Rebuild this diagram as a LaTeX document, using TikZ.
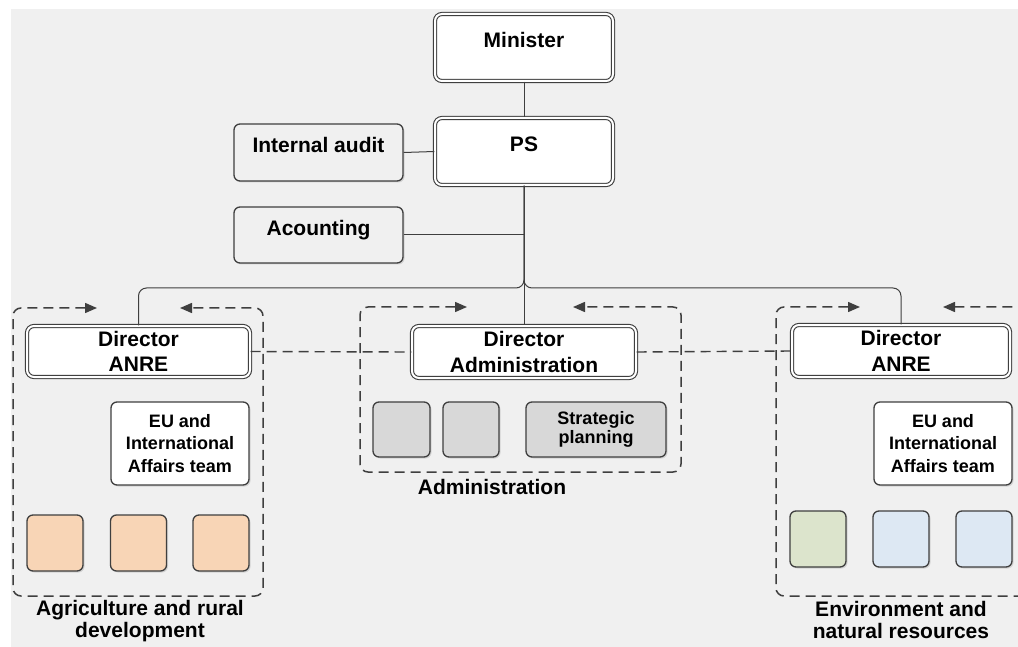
\documentclass[tikz,border=0pt]{standalone}
\usepackage{fontspec}
\setmainfont{Liberation Sans}
\usetikzlibrary{arrows.meta,shadows,calc}

\definecolor{bg}{HTML}{F0F0F0}
\definecolor{edge}{HTML}{3F3F3F}
\definecolor{peach}{HTML}{F8D5B6}
\definecolor{sage}{HTML}{DCE4CC}
\definecolor{sky}{HTML}{DDE8F3}
\definecolor{unitgray}{HTML}{D8D8D8}

\begin{document}
\begin{tikzpicture}[x=1pt,y=-1pt,
  softshadow/.style={drop shadow={shadow xshift=1.5pt,shadow yshift=-1.5pt,fill=black,opacity=0.12}},
  conn/.style={draw=edge,line width=1pt},
  dashconn/.style={draw=edge,line width=1.4pt,dash pattern=on 10pt off 6pt},
  headbox/.style={draw=edge,line width=1.1pt,double=white,double distance=2pt,
    fill=white,rounded corners=7pt,inner sep=0pt,align=center,
    font=\fontsize{21}{25.5}\selectfont\bfseries,softshadow},
  raised/.style={text height=15pt,text depth=14pt},
  unitbox/.style={draw=edge,line width=1.3pt,rounded corners=6pt,inner sep=0pt,
    align=center,softshadow},
  bigtext/.style={font=\fontsize{21}{25.5}\selectfont\bfseries},
  smalltext/.style={font=\fontsize{18}{22.5}\selectfont\bfseries},
  tile/.style={unitbox,minimum width=56pt,minimum height=56pt},
  grp/.style={draw=edge,line width=1.5pt,dash pattern=on 10pt off 6pt,rounded corners=8pt},
  grptips/.style={{Triangle[length=12pt,width=10pt]}-{Triangle[length=12pt,width=10pt]}},
  grouplabel/.style={align=center,inner sep=0pt,font=\fontsize{21}{21.5}\selectfont\bfseries},
]
\useasboundingbox (0,0) rectangle (1018,647);
\fill[white] (0,0) rectangle (1018,647);
\fill[bg] (11,9) rectangle (1018,647);
\clip (0,0) rectangle (1018,647);

% --- top of the hierarchy
\node[headbox,raised,minimum width=178pt,minimum height=67pt] (min) at (524,47.5) {Minister};
\node[headbox,raised,minimum width=178pt,minimum height=67pt] (ps) at (524,151.5) {PS};
\node[unitbox,bigtext,raised,fill=bg,minimum width=169pt,minimum height=57pt] (audit) at (318.5,152.5) {Internal audit};
\node[unitbox,bigtext,raised,fill=bg,minimum width=169pt,minimum height=56pt] (acc) at (318.5,235) {Acounting};

% --- directors
\node[headbox,minimum width=223pt,minimum height=51pt] (dirL) at (138.5,351.5) {Director\\ANRE};
\node[headbox,minimum width=224pt,minimum height=52pt] (dirA) at (524,352) {Director\\Administration};
\node[headbox,minimum width=218pt,minimum height=52pt] (dirR) at (901,351) {Director\\ANRE};

% --- teams and units
\node[unitbox,smalltext,fill=white,minimum width=138pt,minimum height=83pt] (euL) at (180,443.5) {EU and\\International\\Affairs team};
\node[unitbox,smalltext,fill=white,minimum width=138pt,minimum height=83pt] (euR) at (943,443.5) {EU and\\International\\Affairs team};

\node[unitbox,fill=unitgray,minimum width=57pt,minimum height=55pt] (adm1) at (401.5,429.5) {};
\node[unitbox,fill=unitgray,minimum width=56pt,minimum height=55pt] (adm2) at (471,429.5) {};
\node[unitbox,fill=unitgray,minimum width=140pt,minimum height=55pt,
  font=\fontsize{18}{18.5}\selectfont\bfseries] (strat) at (596,429.5) {Strategic\\planning};

\node[tile,fill=peach] (agr1) at (55,543) {};
\node[tile,fill=peach] (agr2) at (138.5,543) {};
\node[tile,fill=peach] (agr3) at (221,543) {};

\node[tile,fill=sage] (env1) at (818,539) {};
\node[tile,fill=sky] (env2) at (901,539) {};
\node[tile,fill=sky] (env3) at (984,539) {};

% --- reporting lines
\coordinate (bus) at (524,288);
\draw[conn] (min.south) -- (ps.north);
\draw[conn] (audit.east) -- (ps.west);
\draw[conn] (acc.east) -- (acc.east -| ps.south);
\draw[conn] (ps.south) -- (dirA.north);
\draw[conn,rounded corners=8pt] (ps.south) -- (bus) -| (dirL.north);
\draw[conn,rounded corners=8pt] (ps.south) -- (bus) -| (dirR.north);

% --- coordination between directors
\draw[dashconn] (dirL.east) -- (dirA.west);
\draw[dashconn] (dirA.east) -- (dirR.west);

% --- dashed department frames
\draw[grp,grptips] (97,308) -- (13,308) -- (13,596) -- (263,596) -- (263,308) -- (180,308);
\draw[grp,grptips] (467,307) -- (360,307) -- (360,472) -- (681,472) -- (681,307) -- (573,307);
\draw[grp,grptips] (860,307) -- (776,307) -- (776,596) -- (1032,596) -- (1032,307) -- (943,307);

% --- department names
\node[grouplabel] (lblAdm) at (492,487) {Administration};
\node[grouplabel] (lblAgr) at (140,621) {Agriculture and rural\\development};
\node[grouplabel] (lblEnv) at (901,620) {Environment and\\natural resources};
\end{tikzpicture}
\end{document}
